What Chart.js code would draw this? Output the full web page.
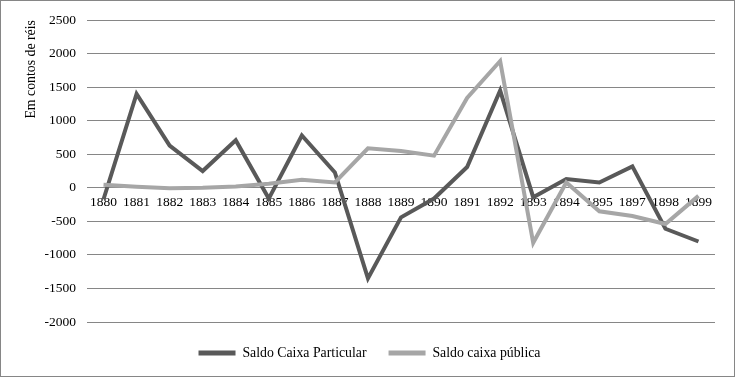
<!DOCTYPE html>
<html>
<head>
<meta charset="utf-8">
<script src="https://cdn.jsdelivr.net/npm/chart.js@4/dist/chart.umd.min.js"></script>
<style>
html,body{margin:0;padding:0;background:#fff;}
#wrap{position:relative;width:735px;height:377px;box-sizing:border-box;border:1px solid #868686;background:#fff;}
canvas{display:block;}
</style>
</head>
<body>
<div id="wrap"><canvas id="c" width="733" height="375"></canvas></div>
<script>
const years = ["1880","1881","1882","1883","1884","1885","1886","1887","1888","1889","1890","1891","1892","1893","1894","1895","1897","1898","1899"];
const saldoParticular = [-170,1400,630,250,710,-160,780,230,-1350,-440,-160,310,1450,-140,130,80,320,-610,-800];
const saldoPublica = [45,15,-5,0,20,60,120,80,590,550,480,1340,1890,-820,80,-350,-420,-540,-120];
const yTicks = [-2000,-1500,-1000,-500,0,500,1000,1500,2000,2500];
const yTitle = "Em contos de réis";

const serif = "'Liberation Serif','Times New Roman',serif";
Chart.defaults.font.family = serif;
Chart.defaults.font.size = 13.5;
Chart.defaults.color = "#000";

new Chart(document.getElementById('c'), {
  type: 'line',
  data: {
    labels: years,
    datasets: [
      {label: 'Saldo Caixa Particular', data: saldoParticular, borderColor: '#595959', backgroundColor: '#595959', borderWidth: 4, pointRadius: 0, tension: 0, order: 1},
      {label: 'Saldo caixa pública', data: saldoPublica, borderColor: '#a6a6a6', backgroundColor: '#a6a6a6', borderWidth: 4, pointRadius: 0, tension: 0, order: 0}
    ]
  },
  options: {
    responsive: false,
    animation: false,
    events: [],
    layout: {padding: {left: 4, right: 0, top: 18, bottom: 6}},
    plugins: {
      tooltip: {enabled: false},
      legend: {
        position: 'bottom',
        title: {display: true, text: '', font: {size: 1}, padding: {top: 0, bottom: 1}},
        labels: {
          boxWidth: 37, boxHeight: 5, padding: 22,
          font: {family: serif, size: 13.8},
          color: '#000',
          sort: (a, b) => a.datasetIndex - b.datasetIndex,
          generateLabels: (chart) => chart.data.datasets.map((ds, i) => ({
            text: ds.label, fillStyle: ds.borderColor, strokeStyle: ds.borderColor,
            lineWidth: 0, hidden: false, datasetIndex: i, fontColor: '#000'
          }))
        }
      }
    },
    scales: {
      x: {
        type: 'category',
        position: {y: 0},
        offset: true,
        grid: {display: false, drawTicks: false},
        border: {display: false},
        ticks: {autoSkip: false, maxRotation: 0, padding: 7, color: '#000', font: {family: serif, size: 13.5}}
      },
      y: {
        type: 'linear',
        min: -2000, max: 2500,
        afterBuildTicks: (s) => { s.ticks = yTicks.map(v => ({value: v})); },
        grid: {color: '#868686', lineWidth: 1, drawTicks: false},
        border: {display: false},
        ticks: {padding: 11, color: '#000', font: {family: serif, size: 13.5}, callback: (v) => String(v)},
        title: {display: true, text: yTitle, align: 'end', color: '#000', font: {family: serif, size: 13.8}, padding: {top: 18, bottom: 0}},
        afterFit: (s) => { s.width = 82; }
      },
      yR: {
        type: 'linear',
        position: 'right',
        display: true,
        grid: {display: false, drawTicks: false},
        border: {display: false},
        ticks: {display: false},
        afterFit: (s) => { s.width = 19; }
      }
    }
  },
  plugins: [{
    id: 'bg',
    beforeDraw: (chart) => { const c = chart.ctx; c.save(); c.fillStyle = '#fff'; c.fillRect(0, 0, chart.width, chart.height); c.restore(); }
  }]
});
</script>
</body>
</html>
